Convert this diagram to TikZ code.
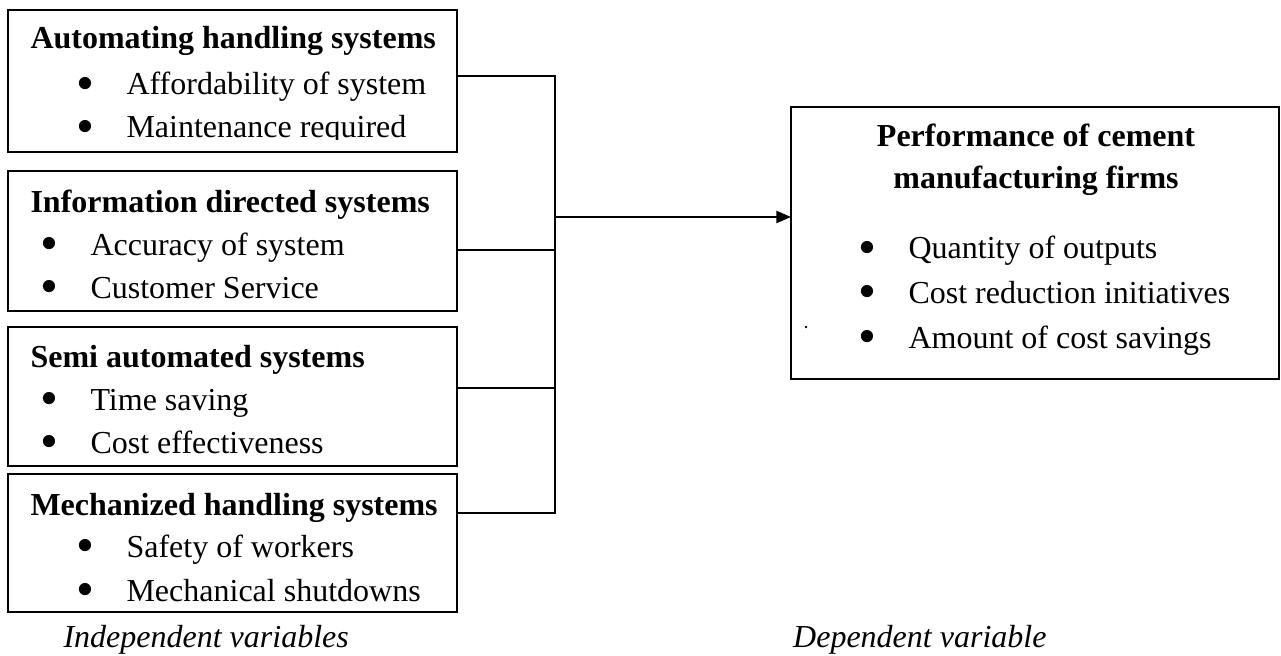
\documentclass[tikz,border=0pt]{standalone}
\usepackage{fontspec}
\setmainfont{Liberation Serif}
\usepackage{tikz}
\usetikzlibrary{positioning,arrows.meta,calc}
\newlength{\pix}
\setlength{\pix}{0.375pt}
\newcommand{\bitem}{\llap{\smash{\raisebox{-2.2pt}{\scalebox{1.6}{\textbullet}}}\hspace{12pt}}}
\tikzset{
    varbox/.style={rectangle, draw, line width=0.8pt, inner sep=0pt, outer sep=0pt},
    txt/.style={anchor=base west, inner sep=0pt, font=\fontsize{12}{14}\selectfont},
    head/.style={txt, font=\fontsize{12}{14}\selectfont\bfseries},
    caption/.style={txt, font=\fontsize{12}{14}\selectfont\itshape},
    link/.style={line width=0.6pt},
    arrow/.style={-{Triangle[length=5.5pt,width=4.6pt]}, line width=0.6pt}
}
\begin{document}
\begin{tikzpicture}[x=0.375pt, y=-0.375pt]
\useasboundingbox (0,0) rectangle (1281,656);

% Independent variable boxes
\node[varbox, minimum width=449\pix, minimum height=142\pix] at (232.5,81) (ahs) {};
\node[varbox, minimum width=449\pix, minimum height=140\pix] at (232.5,241) (ids) {};
\node[varbox, minimum width=449\pix, minimum height=139\pix] at (232.5,396.5) (sas) {};
\node[varbox, minimum width=449\pix, minimum height=138\pix] at (232.5,543) (mhs) {};

\node[head] at (30,49) (ahs-t) {Automating handling systems};
\node[txt] at (126,95) (ahs-1) {\bitem Affordability of system};
\begin{scope}
\clip (0,0) rectangle (470,139.5);
\node[txt] at (126,138) (ahs-2) {\bitem Maintenance required};
\end{scope}

\node[head] at (30,212) (ids-t) {Information directed systems};
\node[txt] at (90,255) (ids-1) {\bitem Accuracy of system};
\node[txt] at (90,298) (ids-2) {\bitem Customer Service};

\node[head] at (30,367) (sas-t) {Semi automated systems};
\node[txt] at (90,410) (sas-1) {\bitem Time saving};
\node[txt] at (90,453) (sas-2) {\bitem Cost effectiveness};

\node[head] at (30,515) (mhs-t) {Mechanized handling systems};
\node[txt] at (126,557) (mhs-1) {\bitem Safety of workers};
\begin{scope}
\clip (0,470) rectangle (470,602.5);
\node[txt] at (126,601) (mhs-2) {\bitem Mechanical shutdowns};
\end{scope}

% Dependent variable box
\node[varbox, minimum width=488\pix, minimum height=272\pix] at (1035,243) (perf) {};
\node[head, anchor=base] at (1036,147) (perf-t1) {Performance of cement};
\node[head, anchor=base] at (1036,189) (perf-t2) {manufacturing firms};
\node[txt] at (908,259) (perf-1) {\bitem Quantity of outputs};
\node[txt] at (908,303) (perf-2) {\bitem Cost reduction initiatives};
\node[txt] at (908,348) (perf-3) {\bitem Amount of cost savings};
\fill (806,327) circle (0.5pt);

% Connectors
\coordinate (c1) at (555,76);
\coordinate (c2) at (555,250);
\coordinate (c3) at (555,388);
\coordinate (c4) at (555,513);
\coordinate (j) at (555,217);
\draw[link] (c1 -| ahs.east) -- (c1) -- (c4) -- (c4 -| mhs.east);
\draw[link] (c2 -| ids.east) -- (c2);
\draw[link] (c3 -| sas.east) -- (c3);
\draw[arrow] (j) -- (j -| perf.west);

% Captions
\node[caption] at (63,647) (indep) {Independent variables};
\node[caption, anchor=base east] at (1047,647) (dep) {Dependent variable};

\end{tikzpicture}
\end{document}
